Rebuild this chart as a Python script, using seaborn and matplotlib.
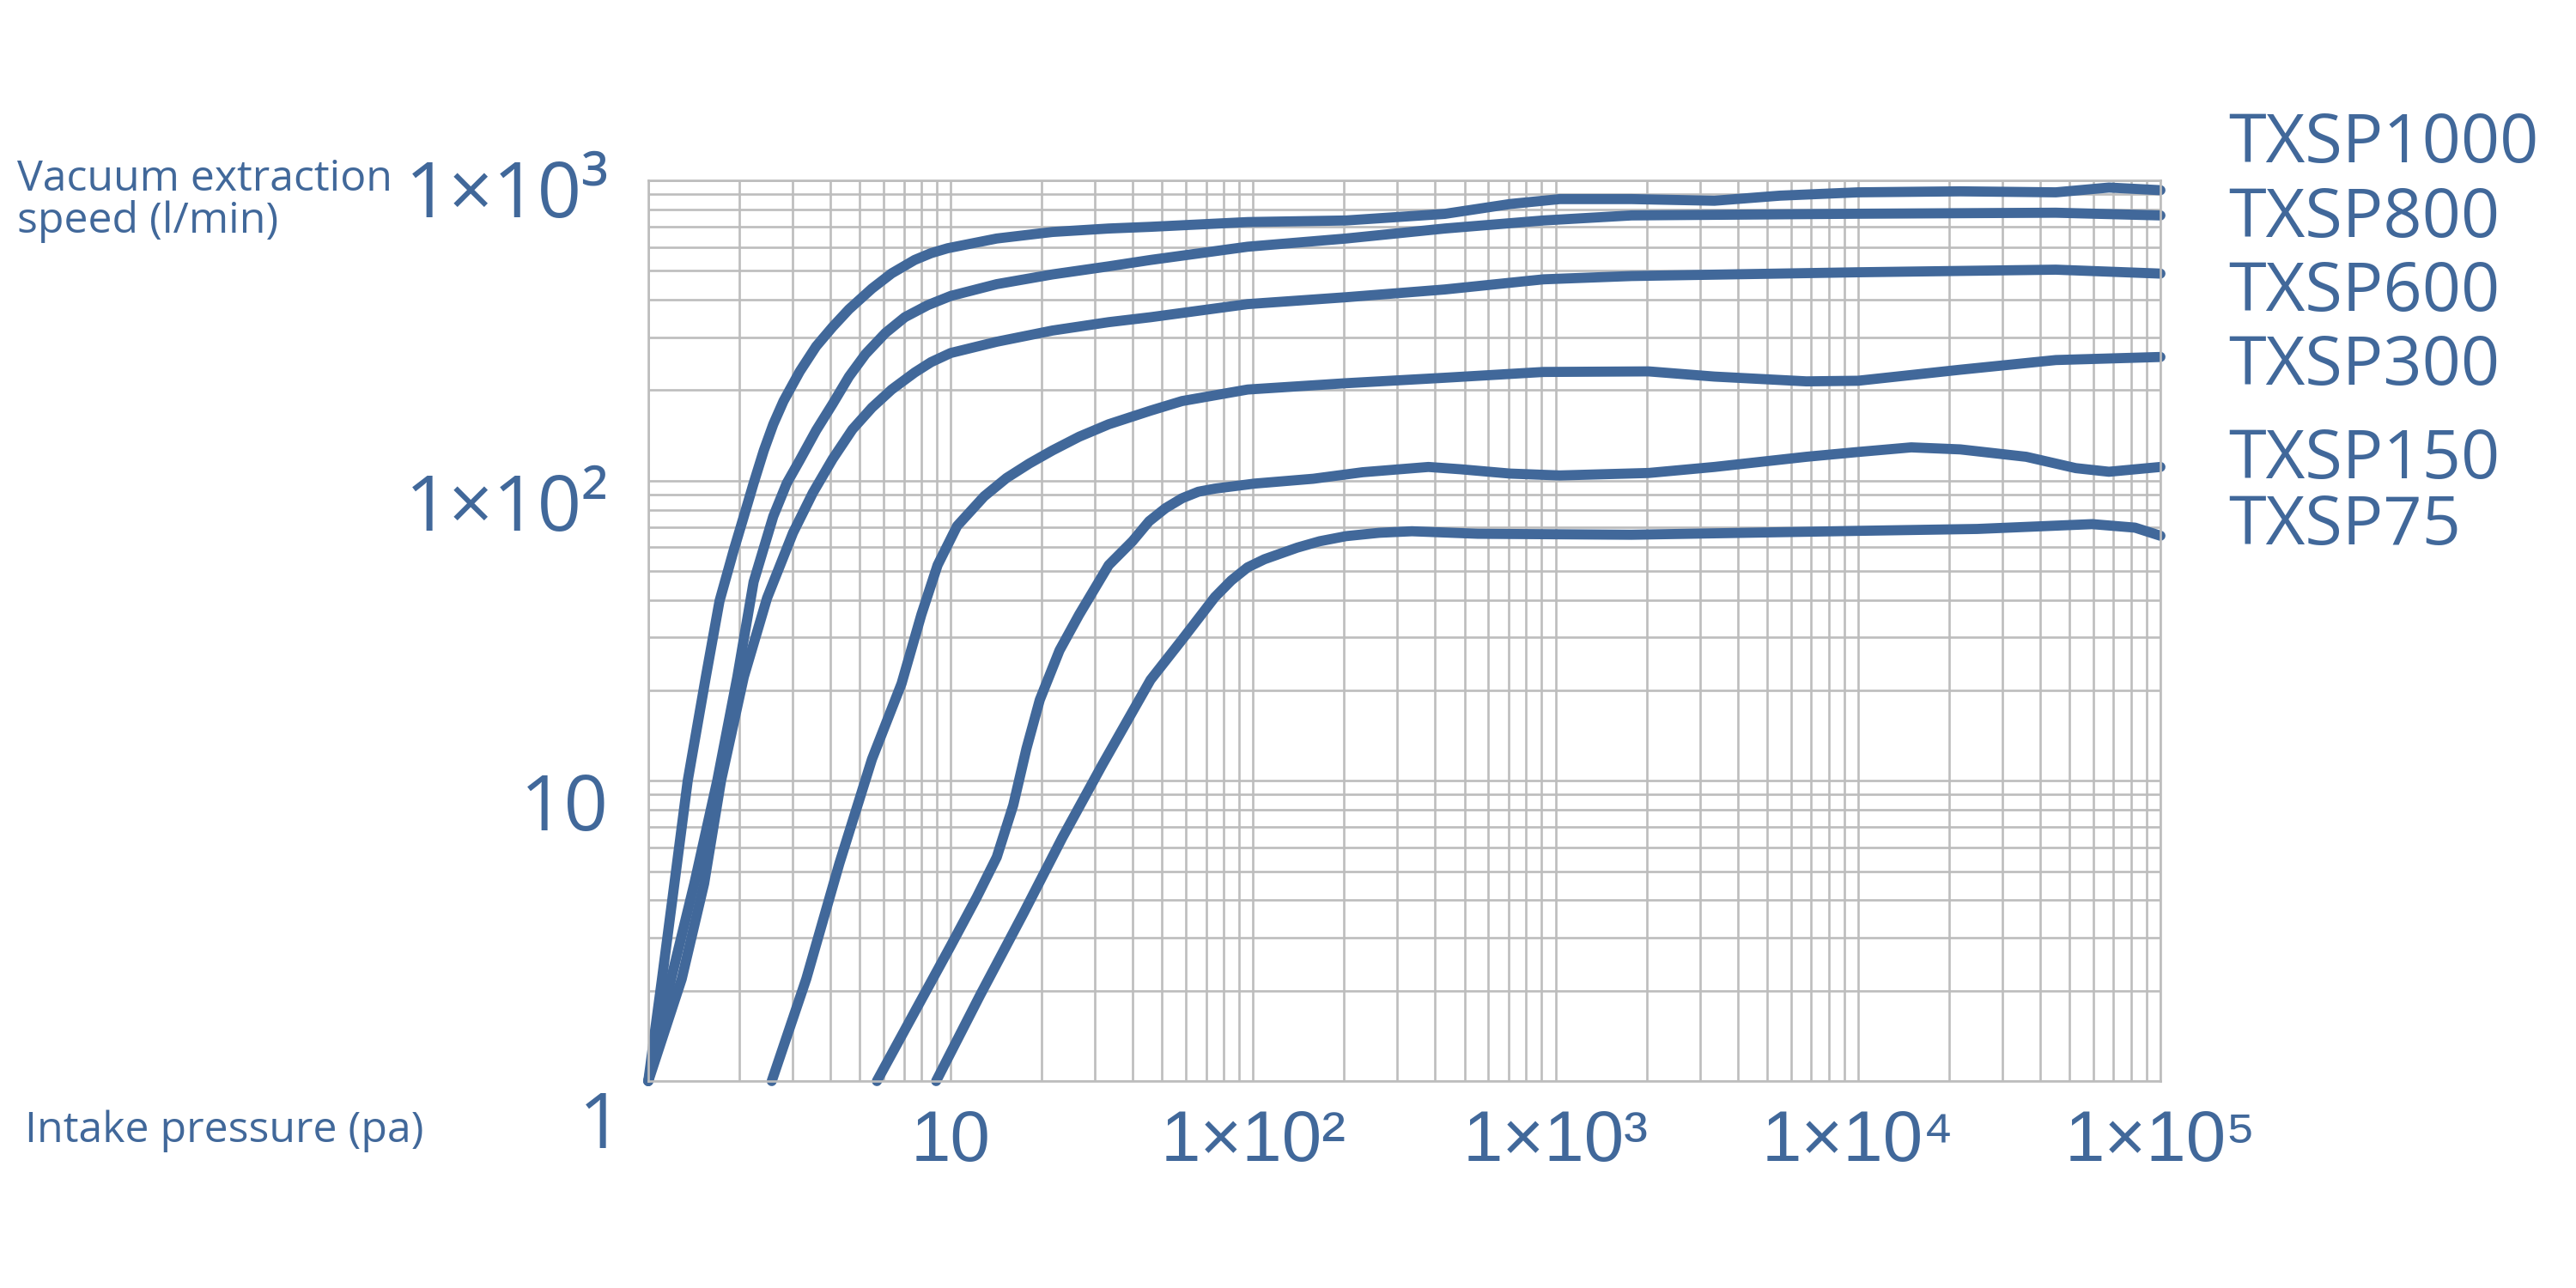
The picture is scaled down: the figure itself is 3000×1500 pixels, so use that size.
import pandas as pd
import seaborn as sns
import matplotlib.pyplot as plt
from matplotlib import transforms

# colours of the brochure chart
blue = '#41689a'
grid_grey = '#bdbdbd'

# intake pressure (pa) and extraction speed (l/min)
txsp1000_p = [1.0, 1.11, 1.22, 1.35, 1.55, 1.72, 1.92, 2.07, 2.23, 2.41, 2.59, 2.80, 3.17, 3.59,
              4.07, 4.61, 5.49, 6.38, 7.6, 8.61, 9.77, 14.2, 21.7, 33.3, 45.8, 95.9, 203, 430,
              708, 1033, 1782, 3350, 5520, 10000, 21800, 45100, 67600, 100000]
txsp1000_s = [1.0, 2.19, 4.55, 10, 22.2, 39.7, 59, 76, 98, 126, 154, 184, 231, 280,
              325, 372, 436, 490, 543, 572, 594, 640, 673, 691, 700, 726, 735, 773,
              834, 866, 866, 855, 889, 912, 919, 912, 946, 927]

txsp800_p = [1.0, 1.19, 1.42, 1.69, 1.97, 2.23, 2.59, 2.87, 3.17, 3.59, 4.07, 4.61, 5.23, 6.08,
             7.05, 8.4, 10, 14.2, 21.7, 33.3, 45.8, 95.9, 203, 430, 912, 1782, 10000, 45100,
             100000]
txsp800_s = [1.0, 2.19, 4.55, 10, 22.2, 46, 76, 98, 117, 147, 180, 222, 264, 310,
             350, 384, 412, 451, 486, 517, 543, 601, 640, 691, 735, 764, 774, 780,
             764]

txsp600_p = [1.0, 1.29, 1.53, 1.74, 2.07, 2.47, 3.01, 3.5, 4.07, 4.73, 5.49, 6.38, 7.6, 8.61, 10,
             14.2, 21.7, 33.3, 45.8, 95.9, 203, 430, 912, 1782, 10000, 45100, 100000]
txsp600_s = [1.0, 2.19, 4.55, 10, 22.2, 40.6, 67, 91, 118, 148, 175, 201, 229, 248, 266,
             290, 316, 337, 350, 387, 408, 433, 468, 480, 494, 504, 489]

txsp300_p = [2.56, 3.33, 4.28, 5.49, 6.88, 8.0, 9.05, 10.5, 12.9, 15.3, 18.2, 21.7, 26.6, 33.3,
             45.8, 58.2, 95.9, 203, 430, 912, 2032, 3350, 6750, 10000, 21800, 45100, 100000]
txsp300_s = [1.0, 2.19, 5.29, 11.8, 21.1, 35.8, 52.3, 70.6, 88.6, 102, 114, 126, 140, 154,
             171, 184, 201, 211, 220, 230, 231, 222, 214, 215, 234, 252, 258]

txsp150_p = [5.7, 7.6, 10, 12.2, 14.2, 16.1, 17.8, 19.7, 22.9, 26.6, 33.3, 39.9, 45.3, 51.3, 58.2,
             65.9, 74.7, 101, 158, 230, 380, 488, 708, 1033, 2032, 3350, 6750, 10000, 15000,
             21800, 36000, 52500, 67600, 100000]
txsp150_s = [1.0, 1.7, 2.82, 4.1, 5.57, 8.3, 12.8, 18.6, 27.2, 35.8, 52.3, 62.8, 73.2, 80.9, 87.3,
             91.8, 94, 97.7, 101.4, 106.6, 111, 109, 105.5, 104, 106, 111, 120, 124.5, 129,
             127, 120, 110, 107, 111]

txsp75_p = [8.95, 12.5, 17.4, 23.4, 31.7, 45.8, 58.2, 74.7, 84.7, 95.9, 109, 140, 166, 203, 261,
            335, 553, 1782, 10000, 24800, 59500, 82400, 100000]
txsp75_s = [1.0, 1.93, 3.62, 6.47, 11.3, 21.7, 29.5, 40.9, 46.5, 51.4, 54.7, 59.8, 62.8, 65.3, 67,
            67.8, 66.5, 66, 68, 69, 71.6, 69.7, 65.5]

models = ['TXSP1000', 'TXSP800', 'TXSP600', 'TXSP300', 'TXSP150', 'TXSP75']
pressures = [txsp1000_p, txsp800_p, txsp600_p, txsp300_p, txsp150_p, txsp75_p]
speeds = [txsp1000_s, txsp800_s, txsp600_s, txsp300_s, txsp150_s, txsp75_s]

# label text and where the model names sit (baseline, px from top)
x_tick_vals = [10, 100, 1000, 10000, 100000]
x_tick_labels = ['10', '1×10²', '1×10³', '1×10⁴', '1×10⁵']
y_tick_vals = [10, 100, 1000]
y_tick_labels = ['10', '1×10²', '1×10³']
y_label_drop = [58, 58, 43]
model_baselines = [189, 276, 362, 448, 557, 634]

frames = []
for name, p, s in zip(models, pressures, speeds):
    frames.append(pd.DataFrame({'model': name, 'pressure': p, 'speed': s}))
curves = pd.concat(frames, ignore_index=True)

sns.set_style('white')
plt.rcParams['font.family'] = ['Open Sans', 'DejaVu Sans']

fig = plt.figure(figsize=(30, 15), dpi=100)
ax = fig.add_axes([755 / 3000, 1 - 1259 / 1500, (2516 - 755) / 3000, (1259 - 210) / 1500])

sns.lineplot(data=curves, x='pressure', y='speed', hue='model', palette={m: blue for m in models},
             estimator=None, sort=False, legend=False, lw=8.5, ax=ax,
             solid_capstyle='round', solid_joinstyle='round', clip_on=False)

ax.set_xscale('log')
ax.set_yscale('log')
ax.set_xlim(1, 1e5)
ax.set_ylim(1, 1000)
ax.set_xlabel('')
ax.set_ylabel('')
ax.set_axisbelow(True)
ax.grid(True, which='both', color=grid_grey, lw=1.9)
ax.tick_params(which='both', length=0, labelbottom=False, labelleft=False)
for sp in ax.spines.values():
    sp.set_color(grid_grey)
    sp.set_linewidth(1.9)

# tick labels drawn as text so they can sit where the brochure puts them
xtrans = transforms.offset_copy(ax.get_xaxis_transform(), fig=fig, y=-93, units='dots')
for v, lab in zip(x_tick_vals, x_tick_labels):
    ax.text(v, 0, lab, transform=xtrans, ha='center', va='baseline', color=blue,
            fontsize=60, family=['Liberation Sans', 'DejaVu Sans'])

for v, lab, drop in zip(y_tick_vals, y_tick_labels, y_label_drop):
    ytrans = transforms.offset_copy(ax.get_yaxis_transform(), fig=fig, x=-46, y=-drop, units='dots')
    ax.text(0, v, lab, transform=ytrans, ha='right', va='baseline', color=blue, fontsize=65)

otrans = transforms.offset_copy(ax.transAxes, fig=fig, x=-55, y=-78, units='dots')
ax.text(0, 0, '1', transform=otrans, ha='center', va='baseline', color=blue, fontsize=65)

for name, yb in zip(models, model_baselines):
    fig.text(2595 / 3000, 1 - yb / 1500, name, color=blue, fontsize=57, va='baseline')

fig.text(20 / 3000, 1 - 222 / 1500, 'Vacuum extraction', color=blue, fontsize=36, va='baseline')
fig.text(20 / 3000, 1 - 271 / 1500, 'speed (l/min)', color=blue, fontsize=36, va='baseline')
fig.text(29 / 3000, 1 - 1330 / 1500, 'Intake pressure (pa)', color=blue, fontsize=36, va='baseline')

fig.savefig('out.png', dpi=100)
